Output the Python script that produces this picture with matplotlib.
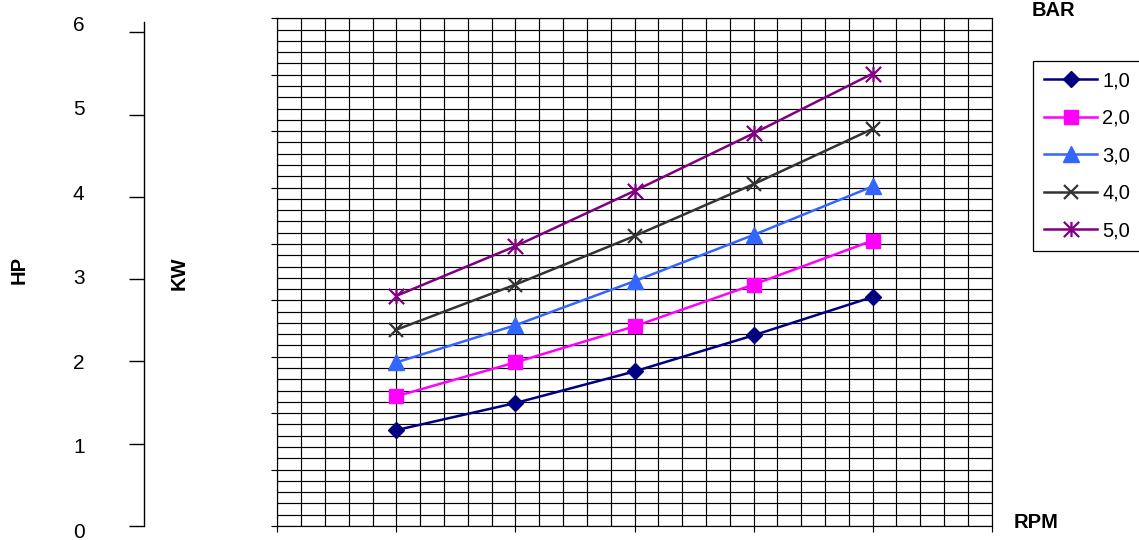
import matplotlib
matplotlib.use("Agg")
import matplotlib.pyplot as plt
from matplotlib.ticker import MultipleLocator, FixedLocator, NullFormatter
from matplotlib.path import Path

plt.rcParams['font.family'] = ['Liberation Sans', 'DejaVu Sans']

# ---- data ----
rpm_points = [1, 2, 3, 4, 5]
bar_labels = ['1,0', '2,0', '3,0', '4,0', '5,0']
kw_bar1 = [0.85, 1.09, 1.37, 1.69, 2.03]
kw_bar2 = [1.15, 1.45, 1.77, 2.14, 2.53]
kw_bar3 = [1.45, 1.78, 2.17, 2.58, 3.01]
kw_bar4 = [1.74, 2.14, 2.57, 3.03, 3.52]
kw_bar5 = [2.04, 2.48, 2.97, 3.48, 4.01]
hp_ticks = [0, 1, 2, 3, 4, 5, 6]

series = [kw_bar1, kw_bar2, kw_bar3, kw_bar4, kw_bar5]

# ---- styles ----
star_path = Path([(0, -1), (0, 1), (-1, -1), (1, 1), (-1, 1), (1, -1)],
                 [Path.MOVETO, Path.LINETO, Path.MOVETO, Path.LINETO, Path.MOVETO, Path.LINETO])
colors = ['#000080', '#FF00FF', '#3366FF', '#333333', '#800080']
markers = ['D', 's', '^', 'x', star_path]
msizes = [8.5, 10.5, 11, 10, 11]
mews = [1.0, 1.0, 1.0, 1.6, 1.6]

W, H = 1139, 540
def fx(px):
    return px / W
def fy(py):
    return 1 - py / H

fig = plt.figure(figsize=(W / 100, H / 100), dpi=100)

# main plot area
ax = fig.add_axes([fx(277.3), fy(526), fx(991.7) - fx(277.3), fy(18.3) - fy(526)])
ax.set_xlim(0, 6)
ax.set_ylim(0, 4.5)
ax.xaxis.set_major_locator(MultipleLocator(1))
ax.xaxis.set_minor_locator(MultipleLocator(0.2))
ax.yaxis.set_major_locator(MultipleLocator(0.5))
ax.yaxis.set_minor_locator(MultipleLocator(0.1))
ax.grid(which='both', color='black', linewidth=0.85)
ax.set_axisbelow(True)
ax.tick_params(which='major', direction='out', length=4.2, width=0.85, color='black',
               labelbottom=False, labelleft=False, top=False, right=False)
ax.tick_params(which='minor', length=0)
for s in ax.spines.values():
    s.set_linewidth(0.85)
    s.set_color('black')

for vals, lab, c, m, ms, mew in zip(series, bar_labels, colors, markers, msizes, mews):
    ax.plot(rpm_points, vals, color=c, linewidth=1.8, marker=m, markersize=ms,
            markerfacecolor=c, markeredgecolor=c, markeredgewidth=mew, label=lab,
            zorder=3)

leg = ax.legend(loc='upper left', bbox_to_anchor=(fx(1033.3), fy(60.7)),
                bbox_transform=fig.transFigure, borderaxespad=0, fontsize=14.5,
                frameon=True, fancybox=False, edgecolor='black', framealpha=1,
                handlelength=2.65, handletextpad=0.25, labelspacing=0.92,
                borderpad=0.53)
leg.get_frame().set_linewidth(0.9)

# HP scale on the far left: spine with ticks
top_px = 21.7
ax_hp = fig.add_axes([fx(144.3), fy(526), 0.0005, fy(top_px) - fy(526)])
ax_hp.set_ylim(0, (526 - top_px) / 82.3)
ax_hp.yaxis.set_major_locator(FixedLocator(hp_ticks))
ax_hp.yaxis.set_major_formatter(NullFormatter())
ax_hp.tick_params(axis='y', direction='out', length=10.8, width=1.0, color='black')
ax_hp.xaxis.set_visible(False)
for k in ['top', 'right', 'bottom']:
    ax_hp.spines[k].set_visible(False)
ax_hp.spines['left'].set_linewidth(1.0)
ax_hp.patch.set_visible(False)

# HP tick labels
ax_lab = fig.add_axes([fx(144.3), fy(530), 0.0005, fy(23.3) - fy(530)])
ax_lab.set_ylim(0, 6)
ax_lab.yaxis.set_major_locator(FixedLocator(hp_ticks))
ax_lab.tick_params(axis='y', length=0, pad=43, labelsize=15)
ax_lab.xaxis.set_visible(False)
for s in ax_lab.spines.values():
    s.set_visible(False)
ax_lab.patch.set_visible(False)

# axis titles
fig.text(fx(19), fy(270), 'HP', rotation=90, fontweight='bold', fontsize=14.5,
         ha='center', va='center')
fig.text(fx(178.7), fy(273), 'KW', rotation=90, fontweight='bold', fontsize=14.5,
         ha='center', va='center')
fig.text(fx(1053.8), fy(10), 'BAR', fontweight='bold', fontsize=14.5,
         ha='center', va='center')
fig.text(fx(1036), fy(522.5), 'RPM', fontweight='bold', fontsize=14.5,
         ha='center', va='center')

fig.savefig('out.png', dpi=100, facecolor='white')
